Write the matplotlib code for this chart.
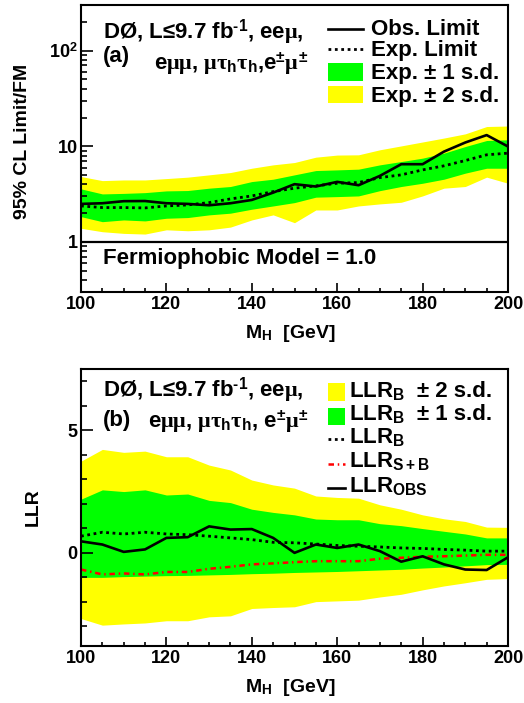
import numpy as np
import matplotlib
matplotlib.use("Agg")
import matplotlib.pyplot as plt
from matplotlib.ticker import MultipleLocator, LogLocator, FixedLocator, FixedFormatter, NullFormatter
from matplotlib.lines import Line2D
from matplotlib.patches import Rectangle

plt.rcParams['font.family'] = ['Liberation Sans', 'DejaVu Sans']
plt.rcParams['font.weight'] = 'bold'
plt.rcParams['mathtext.fontset'] = 'custom'
plt.rcParams['mathtext.rm'] = 'Liberation Sans:bold'
plt.rcParams['mathtext.bf'] = 'Liberation Sans:bold'
plt.rcParams['mathtext.sf'] = 'Liberation Sans:bold'
plt.rcParams['mathtext.it'] = 'Liberation Serif'

# ---------------- data ----------------
mass = [100, 105, 110, 115, 120, 125, 130, 135, 140, 145, 150,
        155, 160, 165, 170, 175, 180, 185, 190, 195, 200]

# (a) limits / FM
obs_limit = [2.50, 2.54, 2.67, 2.68, 2.54, 2.50, 2.42, 2.54, 2.75, 3.28, 4.02,
             3.80, 4.25, 3.92, 4.91, 6.50, 6.50, 8.80, 10.96, 13.1, 9.95]
exp_limit = [2.38, 2.29, 2.29, 2.27, 2.38, 2.44, 2.58, 2.82, 3.03, 3.36, 3.65,
             3.86, 4.11, 4.18, 4.71, 5.03, 5.67, 6.25, 7.10, 8.15, 8.48]
exp_p1 = [3.59, 3.18, 3.22, 3.28, 3.42, 3.45, 3.65, 3.80, 4.28, 4.53, 5.03,
          5.58, 5.67, 5.77, 6.40, 6.93, 7.52, 8.48, 9.95, 11.5, 11.7]
exp_m1 = [1.84, 1.63, 1.70, 1.66, 1.77, 1.80, 1.92, 2.00, 2.20, 2.38, 2.58,
          2.94, 2.98, 3.03, 3.44, 3.80, 4.11, 4.53, 5.24, 5.90, 5.90]
exp_p2 = [4.83, 4.38, 4.45, 4.45, 4.60, 4.76, 5.03, 5.32, 5.90, 6.40, 6.77,
          7.70, 8.10, 8.15, 9.20, 10.1, 11.1, 12.2, 13.5, 16.1, 16.3]
exp_m2 = [1.39, 1.28, 1.23, 1.21, 1.34, 1.31, 1.34, 1.43, 1.70, 1.92, 1.59,
          2.16, 2.16, 2.38, 2.50, 2.60, 3.03, 3.65, 3.80, 4.76, 4.11]

# (b) LLR
llr_b = [0.68, 0.84, 0.77, 0.84, 0.77, 0.74, 0.68, 0.61, 0.54, 0.43, 0.41,
         0.36, 0.30, 0.27, 0.24, 0.20, 0.18, 0.14, 0.11, 0.07, 0.07]
llr_sb = [-0.68, -0.88, -0.84, -0.88, -0.78, -0.78, -0.65, -0.57, -0.47, -0.43, -0.38,
          -0.34, -0.34, -0.34, -0.24, -0.20, -0.16, -0.14, -0.11, -0.08, -0.08]
llr_obs = [0.47, 0.34, 0.04, 0.14, 0.61, 0.64, 1.08, 0.95, 0.97, 0.61, 0.00,
           0.34, 0.20, 0.34, 0.07, -0.36, -0.14, -0.47, -0.68, -0.70, -0.18]
llr_p1 = [2.19, 2.57, 2.50, 2.57, 2.36, 2.40, 2.14, 2.05, 1.78, 1.65, 1.55,
          1.38, 1.35, 1.35, 1.19, 1.11, 0.99, 0.88, 0.77, 0.61, 0.61]
llr_m1 = [-1.00, -1.00, -0.97, -0.95, -0.93, -0.92, -0.90, -0.88, -0.85, -0.83, -0.80,
          -0.78, -0.76, -0.73, -0.70, -0.67, -0.62, -0.58, -0.53, -0.48, -0.47]
llr_p2 = [3.74, 4.22, 4.10, 4.15, 3.92, 3.92, 3.58, 3.38, 2.97, 2.77, 2.64,
          2.32, 2.26, 2.23, 1.96, 1.78, 1.55, 1.39, 1.28, 1.05, 1.04]
llr_m2 = [-2.68, -2.95, -2.90, -2.86, -2.77, -2.77, -2.61, -2.57, -2.27, -2.23, -2.20,
          -1.99, -1.96, -1.93, -1.80, -1.69, -1.51, -1.35, -1.22, -1.08, -1.05]

fm_model = 1.0

GREEN = '#00ff00'
YELLOW = '#ffff00'
RED = '#ff0000'

TXT = 16
TICK = 13
LAB = 14

fig = plt.figure(figsize=(5.24, 7.03), dpi=100)
W, H = 524.0, 703.0
ax1 = fig.add_axes([81 / W, 1 - 292 / H, 427 / W, 287 / H])
ax2 = fig.add_axes([81 / W, 1 - 646 / H, 427 / W, 277 / H])


def style_axes(ax):
    for s in ax.spines.values():
        s.set_linewidth(1.5)
    ax.set_xlim(100, 200)
    ax.xaxis.set_major_locator(MultipleLocator(20))
    ax.xaxis.set_minor_locator(MultipleLocator(5))
    ax.tick_params(axis='both', which='both', direction='in', top=False, right=False,
                   width=1.2, labelsize=TICK)
    ax.tick_params(axis='x', which='major', length=6.2, pad=3)
    ax.tick_params(axis='x', which='minor', length=3.1)
    ax.tick_params(axis='y', which='major', length=8.6, pad=2.5)
    ax.tick_params(axis='y', which='minor', length=4.3)
    for lab in ax.get_xticklabels() + ax.get_yticklabels():
        lab.set_fontweight('bold')
    ax.set_xlabel(r'M$_{\mathrm{H}}$  [GeV]', fontsize=LAB, fontweight='bold')


HEAD = r'DØ, L≤9.7 fb$^{\text{-1}}$, ee$\mu$,'

# ---------------- panel (a) ----------------
ax1.set_yscale('log')
ax1.set_ylim(0.3, 300)
ax1.fill_between(mass, exp_m2, exp_p2, color=YELLOW, lw=0)
ax1.fill_between(mass, exp_m1, exp_p1, color=GREEN, lw=0)
ax1.plot(mass, exp_limit, color='black', lw=2.0, ls=(0, (1, 1.3)))
ax1.plot(mass, obs_limit, color='black', lw=1.9)
ax1.axhline(fm_model, color='black', lw=1.6)
style_axes(ax1)
ax1.yaxis.set_major_locator(FixedLocator([1, 10, 100]))
ax1.yaxis.set_major_formatter(FixedFormatter(['1', '10', r'$10^{2}$']))
ax1.yaxis.set_minor_locator(LogLocator(base=10, subs=np.arange(2, 10), numticks=20))
ax1.yaxis.set_minor_formatter(NullFormatter())
ax1.set_ylabel('95% CL Limit/FM', fontsize=LAB, fontweight='bold')
ax1.yaxis.set_label_coords(-0.117, 0.523)
ax1.xaxis.set_label_coords(0.49, -0.108)

ax1.text(0.0515, 0.885, HEAD, transform=ax1.transAxes,
         fontsize=TXT, fontweight='bold', va='baseline', ha='left')
ax1.text(0.0515, 0.801, '(a)', transform=ax1.transAxes,
         fontsize=TXT, fontweight='bold', va='baseline', ha='left')
ax1.text(0.532, 0.774, r'e$\mu\mu$, $\mu\tau_{\mathrm{h}}\tau_{\mathrm{h}}$,e$^{\pm}\mu^{\pm}$',
         transform=ax1.transAxes, fontsize=TXT, fontweight='bold', va='baseline', ha='right')
ax1.text(0.0515, 0.098, 'Fermiophobic Model = 1.0', transform=ax1.transAxes,
         fontsize=TXT, fontweight='bold', va='baseline', ha='left')

# legend (a)
lx0, lx1, tx = 0.578, 0.660, 0.679
ax1.add_line(Line2D([lx0, lx1], [0.917, 0.917], transform=ax1.transAxes, color='black', lw=1.9))
ax1.add_line(Line2D([lx0, lx1], [0.845, 0.845], transform=ax1.transAxes, color='black', lw=2.0,
                    ls=(0, (1, 1.3))))
ax1.add_patch(Rectangle((lx0, 0.735), lx1 - lx0, 0.063, transform=ax1.transAxes, color=GREEN, lw=0))
ax1.add_patch(Rectangle((lx0, 0.659), lx1 - lx0, 0.059, transform=ax1.transAxes, color=YELLOW, lw=0))
for yb, s in zip([0.895, 0.822, 0.742, 0.662],
                 ['Obs. Limit', 'Exp. Limit', 'Exp. ± 1 s.d.', 'Exp. ± 2 s.d.']):
    ax1.text(tx, yb, s, transform=ax1.transAxes, fontsize=TXT, fontweight='bold',
             va='baseline', ha='left')

# ---------------- panel (b) ----------------
ax2.set_ylim(-3.8, 7.5)
ax2.fill_between(mass, llr_m2, llr_p2, color=YELLOW, lw=0)
ax2.fill_between(mass, llr_m1, llr_p1, color=GREEN, lw=0)
ax2.plot(mass, llr_b, color='black', lw=2.0, ls=(0, (1, 1.3)))
ax2.plot(mass, llr_sb, color=RED, lw=1.8, ls=(0, (2.2, 1.5, 0.6, 1.5)))
ax2.plot(mass, llr_obs, color='black', lw=1.9)
style_axes(ax2)
ax2.yaxis.set_major_locator(FixedLocator([0, 5]))
ax2.yaxis.set_minor_locator(MultipleLocator(1))
ax2.set_ylabel('LLR', fontsize=LAB, fontweight='bold')
ax2.yaxis.set_label_coords(-0.091, 0.502)
ax2.xaxis.set_label_coords(0.49, -0.113)

ax2.text(0.0515, 0.900, HEAD, transform=ax2.transAxes,
         fontsize=TXT, fontweight='bold', va='baseline', ha='left')
ax2.text(0.0515, 0.794, '(b)', transform=ax2.transAxes,
         fontsize=TXT, fontweight='bold', va='baseline', ha='left')
ax2.text(0.157, 0.789, r'e$\mu\mu$, $\mu\tau_{\mathrm{h}}\tau_{\mathrm{h}}$, e$^{\pm}\mu^{\pm}$',
         transform=ax2.transAxes, fontsize=TXT, fontweight='bold', va='baseline', ha='left')

# legend (b)
bx0, bx1, btx, bpm = 0.578, 0.618, 0.628, 0.786
ax2.add_patch(Rectangle((bx0, 0.886), bx1 - bx0, 0.062, transform=ax2.transAxes, color=YELLOW, lw=0))
ax2.add_patch(Rectangle((bx0, 0.798), bx1 - bx0, 0.060, transform=ax2.transAxes, color=GREEN, lw=0))
ax2.add_line(Line2D([bx0, bx1], [0.746, 0.746], transform=ax2.transAxes, color='black', lw=2.0,
                    ls=(0, (1, 1.3))))
ax2.add_line(Line2D([bx0, bx1], [0.657, 0.657], transform=ax2.transAxes, color=RED, lw=1.8,
                    ls=(0, (2.2, 1.5, 0.6, 1.5))))
ax2.add_line(Line2D([bx0, bx1], [0.572, 0.572], transform=ax2.transAxes, color='black', lw=1.9))
rows = [(0.900, r'LLR$_{\mathrm{B}}$', '± 2 s.d.'),
        (0.816, r'LLR$_{\mathrm{B}}$', '± 1 s.d.'),
        (0.732, r'LLR$_{\mathrm{B}}$', None),
        (0.647, r'LLR$_{\mathrm{S+B}}$', None),
        (0.557, r'LLR$_{\mathrm{OBS}}$', None)]
for yb, s, extra in rows:
    ax2.text(btx, yb, s, transform=ax2.transAxes, fontsize=TXT, fontweight='bold',
             va='baseline', ha='left')
    if extra:
        ax2.text(bpm, yb, extra, transform=ax2.transAxes, fontsize=TXT, fontweight='bold',
                 va='baseline', ha='left')

fig.savefig('out.png', dpi=100)
